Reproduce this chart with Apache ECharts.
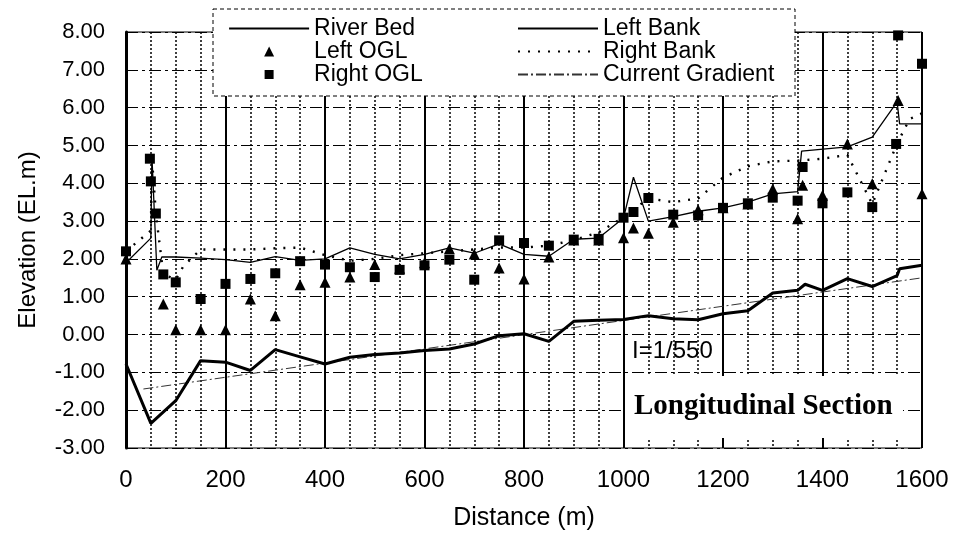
<!DOCTYPE html>
<html>
<head>
<meta charset="utf-8">
<title>Longitudinal Section</title>
<script src="https://cdn.jsdelivr.net/npm/echarts/dist/echarts.min.js"></script>
<style>
  html, body { margin: 0; padding: 0; background: #fff; }
  #chart { width: 960px; height: 537px; }
</style>
</head>
<body>
<div id="chart"></div>
<script>
// river bed profile
const bedDist = [0, 50, 100, 150, 200, 250, 300, 350, 400, 450, 500, 550, 600, 650, 700, 750, 800, 850,
  900, 950, 1000, 1050, 1100, 1150, 1200, 1250, 1300, 1350, 1365, 1400, 1450, 1500, 1550, 1555, 1600];
const bedElev = [-0.78, -2.35, -1.75, -0.69, -0.73, -0.95, -0.40, -0.59, -0.78, -0.60, -0.53, -0.49, -0.42, -0.38, -0.25, -0.03, 0.02, -0.18,
  0.35, 0.38, 0.40, 0.50, 0.42, 0.39, 0.55, 0.63, 1.10, 1.17, 1.33, 1.17, 1.48, 1.27, 1.56, 1.74, 1.83];

// left bank
const leftBankDist = [0, 50, 52, 62, 72, 100, 150, 200, 250, 300, 350, 400, 450, 500, 550, 600, 650, 700, 750, 800, 850,
  900, 950, 1000, 1020, 1050, 1100, 1150, 1200, 1250, 1300, 1350, 1358, 1450, 1500, 1550, 1555, 1600];
const leftBankElev = [1.90, 2.55, 4.75, 1.70, 2.05, 2.05, 2.02, 1.98, 1.91, 2.06, 1.96, 2.00, 2.29, 2.12, 2.00, 2.12, 2.29, 2.15, 2.40, 2.12, 2.07,
  2.52, 2.55, 3.08, 4.16, 3.00, 3.12, 3.26, 3.35, 3.50, 3.72, 3.78, 4.85, 4.96, 5.22, 6.15, 5.57, 5.57];

// right bank
const rightBankDist = [0, 50, 52, 60, 75, 100, 115, 150, 200, 250, 300, 350, 400, 450, 500, 550, 600, 650, 700, 750, 800, 850,
  900, 950, 1000, 1050, 1100, 1150, 1200, 1250, 1300, 1350, 1400, 1450, 1500, 1550, 1575, 1600];
const rightBankElev = [2.20, 2.75, 4.70, 3.20, 1.60, 1.45, 1.80, 2.25, 2.25, 2.25, 2.28, 2.30, 2.10, 1.95, 2.00, 2.10, 2.15, 2.20, 2.25, 2.30, 2.30, 2.35,
  2.50, 2.70, 3.10, 3.60, 3.50, 3.60, 4.15, 4.45, 4.58, 4.60, 4.65, 4.75, 3.45, 5.05, 5.70, 5.85];

// original ground level points (null = no point)
const oglDist = [0, 48, 50, 60, 75, 100, 150, 200, 250, 300, 350, 400, 450, 500, 550, 600, 650, 700, 750, 800, 850,
  900, 950, 1000, 1020, 1050, 1100, 1150, 1200, 1250, 1300, 1350, 1360, 1400, 1450, 1500, 1548, 1552, 1600];
const leftOgl = [2.00, null, null, null, 0.81, 0.13, 0.13, 0.13, 0.94, 0.50, 1.32, 1.38, 1.52, 1.85, 1.75, 1.90, 2.27, 2.13, 1.76, 1.47, 2.05,
  2.50, 2.50, 2.56, 2.82, 2.68, 2.97, 3.30, 3.35, 3.45, 3.85, 3.06, 3.95, 3.68, 5.04, 3.99, null, 6.19, 3.72];
const rightOgl = [2.20, 4.65, 4.05, 3.20, 1.59, 1.38, 0.94, 1.34, 1.47, 1.62, 1.94, 1.85, 1.78, 1.52, 1.71, 1.83, 1.98, 1.45, 2.49, 2.42, 2.35,
  2.51, 2.53, 3.09, 3.24, 3.61, 3.17, 3.15, 3.35, 3.47, 3.62, 3.54, 4.43, 3.47, 3.76, 3.37, 5.04, 7.91, 7.16];

// current gradient I=1/550
const gradDist = [35, 1600];
const gradElev = [-1.44, 1.50];

const pairs = (xs, ys) => xs.map((x, i) => [x, ys[i]]).filter(p => p[1] !== null);

const font = 'Liberation Sans';
const chart = echarts.init(document.getElementById('chart'));

// legend icons: small marker centred in the 80x10 item box
const triIcon = 'path://M0,0M80,10M35,10L40,0L45,10Z';
const rectIcon = 'path://M0,0M80,10M35.5,0.5L44.5,0.5L44.5,9.5L35.5,9.5Z';

const legendBase = {
  orient: 'vertical',
  top: 12,
  itemWidth: 80,
  itemHeight: 10,
  itemGap: 0,
  selectedMode: false,
  z: 60,
  textStyle: { fontFamily: font, fontSize: 23, color: '#000', lineHeight: 23 }
};

const option = {
  animation: false,
  backgroundColor: '#fff',
  grid: {
    left: 126, right: 38, top: 32, bottom: 89,
    show: true, borderColor: '#000', borderWidth: 1,
    outerBoundsMode: 'none'
  },
  legend: [
    Object.assign({}, legendBase, {
      left: 223,
      data: [
        { name: 'River Bed', itemStyle: { opacity: 0 }, lineStyle: { width: 2.2 } },
        { name: 'Left OGL', icon: triIcon },
        { name: 'Right OGL', icon: rectIcon }
      ]
    }),
    Object.assign({}, legendBase, {
      left: 512,
      itemStyle: { opacity: 0 },
      data: ['Left Bank', 'Right Bank', 'Current Gradient']
    })
  ],
  xAxis: {
    type: 'value',
    min: 0, max: 1600, interval: 200,
    name: 'Distance (m)',
    nameLocation: 'middle',
    nameGap: 58,
    nameTextStyle: { fontFamily: font, fontSize: 25, color: '#000' },
    axisLine: { show: false },
    axisTick: { show: false },
    axisLabel: { fontFamily: font, fontSize: 24, color: '#000', margin: 20, formatter: v => String(v) },
    splitLine: { show: true, lineStyle: { color: '#000', width: 2, type: 'solid' } },
    minorTick: { show: false, splitNumber: 4 },
    minorSplitLine: { show: true, lineStyle: { color: '#000', width: 1.5, type: [2, 2] } }
  },
  yAxis: {
    type: 'value',
    min: -3, max: 8, interval: 1,
    name: 'Elevation (EL.m)',
    nameLocation: 'middle',
    nameRotate: 90,
    nameGap: 86,
    nameTextStyle: { fontFamily: font, fontSize: 24, color: '#000' },
    axisLine: { show: true, onZero: false, lineStyle: { color: '#000', width: 3 } },
    axisTick: { show: false },
    axisLabel: {
      fontFamily: font, fontSize: 22, color: '#000', margin: 21,
      formatter: v => v.toFixed(2)
    },
    splitLine: { show: true, lineStyle: { color: '#000', width: 1, type: [12, 4, 3, 4] } }
  },
  series: [
    {
      name: 'River Bed', type: 'line', symbol: 'none',
      data: pairs(bedDist, bedElev),
      lineStyle: { color: '#000', width: 3 }, itemStyle: { color: '#000' }, z: 5
    },
    {
      name: 'Left OGL', type: 'scatter', symbol: 'triangle', symbolSize: 11,
      data: pairs(oglDist, leftOgl),
      itemStyle: { color: '#000', opacity: 1 }, z: 6
    },
    {
      name: 'Right OGL', type: 'scatter', symbol: 'rect', symbolSize: 10,
      data: pairs(oglDist, rightOgl),
      itemStyle: { color: '#000', opacity: 1 }, z: 6
    },
    {
      name: 'Left Bank', type: 'line', symbol: 'none',
      data: pairs(leftBankDist, leftBankElev),
      lineStyle: { color: '#000', width: 1.3 }, itemStyle: { color: '#000' }, z: 4
    },
    {
      name: 'Right Bank', type: 'line', symbol: 'none',
      data: pairs(rightBankDist, rightBankElev),
      lineStyle: { color: '#000', width: 2.4, type: [2, 8] }, itemStyle: { color: '#000' }, z: 4
    },
    {
      name: 'Current Gradient', type: 'line', symbol: 'none',
      data: pairs(gradDist, gradElev),
      lineStyle: { color: '#333', width: 1, type: [10, 3, 2, 3] }, itemStyle: { color: '#333' }, z: 3
    }
  ],
  graphic: [
    // legend box
    {
      type: 'rect', z: 50,
      shape: { x: 213, y: 9, width: 582, height: 87 },
      style: { fill: '#fff', stroke: '#000', lineWidth: 1, lineDash: [4, 3] }
    },
    // white box behind the title
    {
      type: 'rect', z: 50,
      shape: { x: 625, y: 376, width: 278, height: 62 },
      style: { fill: '#fff' }
    },
    {
      type: 'text', z: 51, left: 632, top: 339,
      style: { text: 'I=1/550', fontFamily: font, fontSize: 24, fill: '#000' }
    },
    {
      type: 'text', z: 51, left: 634, top: 392,
      style: { text: 'Longitudinal Section', fontFamily: 'Liberation Serif', fontWeight: 'bold', fontSize: 29, fill: '#000' }
    }
  ]
};

chart.setOption(option);
</script>
</body>
</html>
